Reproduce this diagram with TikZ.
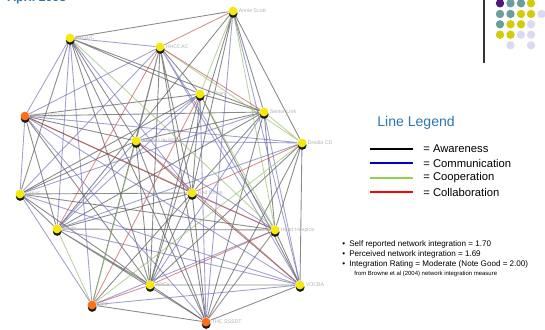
\documentclass[tikz,border=0pt]{standalone}
\usepackage{fontspec}
\setmainfont{Liberation Sans}
\usetikzlibrary{shadows,backgrounds}

\definecolor{headblue}{HTML}{2A78B0}
\definecolor{dotpurple}{HTML}{4B1A7A}
\definecolor{dotteal}{HTML}{6A9E9E}
\definecolor{dotyellow}{HTML}{D4CC0A}
\definecolor{dotlilac}{HTML}{DCDAF0}
\definecolor{legcoop}{HTML}{92D050}
\definecolor{linecom}{HTML}{6E6EB4}

\tikzset{
  org/.style={circle,inner sep=0pt,minimum size=5pt,fill=yellow!95!black,
    drop shadow={shadow xshift=0.1pt,shadow yshift=-1.4pt,fill=black!90,opacity=1},
    label={[lbl]right:#1}},
  orgx/.style={org=#1,fill=orange!75!red!90!white},
  lbl/.style={font=\fontsize{3}{3.5}\selectfont,text=gray!60,inner sep=0.4pt},
  aw/.style={line width=0.5pt,draw=black!65,draw opacity=0.7},
  com/.style={line width=0.5pt,draw=linecom,draw opacity=0.65},
  coop/.style={line width=0.5pt,draw=legcoop!70!gray,draw opacity=0.6},
  coll/.style={line width=0.5pt,draw=red!45!gray,draw opacity=0.6},
  legtxt/.style={anchor=west,font=\fontsize{6.4}{7}\selectfont,inner sep=0pt},
  bultxt/.style={anchor=base west,font=\fontsize{4.6}{5}\selectfont,inner sep=0pt}
}

\begin{document}
\begin{tikzpicture}[x=0.02cm,y=-0.02cm]
\useasboundingbox (0,0) rectangle (545,330);

% header, cut at the top edge
\begin{scope}
\clip (0,0) rectangle (545,330);
\node[anchor=base west,inner sep=0pt,text=headblue,font=\bfseries\fontsize{7}{8}\selectfont] (title) at (7,1.8) {April 2008};
\end{scope}

% corner dots and rule
\draw[line width=0.6pt,black!80] (484,0) -- (484,63);
\fill[dotpurple] (500,3.3) circle (4.2);
\fill[dotteal] (510.5,3.3) circle (4.2);
\fill[dotteal] (521,3.3) circle (4.2);
\fill[dotyellow] (531,3.3) circle (4.2);
\fill[dotteal] (500,14) circle (4.2);
\fill[dotteal] (510.5,14) circle (4.2);
\fill[dotyellow] (521,14) circle (4.2);
\fill[dotyellow] (531,14) circle (4.2);
\fill[dotlilac] (541.5,14) circle (4.2);
\fill[dotteal] (500,24.3) circle (4.2);
\fill[dotyellow] (510.5,24.3) circle (4.2);
\fill[dotyellow] (521,24.3) circle (4.2);
\fill[dotlilac] (531,24.3) circle (4.2);
\fill[dotyellow] (500,34.7) circle (4.2);
\fill[dotyellow] (510.5,34.7) circle (4.2);
\fill[dotlilac] (521,34.7) circle (4.2);
\fill[dotlilac] (531,34.7) circle (4.2);
\fill[dotlilac] (510.5,45.3) circle (4.2);
\fill[dotlilac] (531,45.3) circle (4.2);

% agencies
\node[org=Annie Scott] (scott) at (233,11) {};
\node[org=HHSDC] (hhsdc) at (70,38) {};
\node[org=HHCCAC] (hhccac) at (160,47) {};
\node[org=LL Then] (llthen) at (200,94) {};
\node[org=Senior Link] (slink) at (264,112) {};
\node[org=Dredia CD] (dredia) at (302,143) {};
\node[orgx=HHSCP SGHx] (hhscp) at (25,116) {};
\node[org=Senior Life BS] (slife) at (136,141) {};
\node[org=DHHS] (dhhs) at (20,194) {};
\node[org=Red Cross] (rcross) at (192,193) {};
\node[org=Shelb] (shelb) at (57,229) {};
\node[org=Heart Hospice] (hhosp) at (275,230) {};
\node[org=ARCs] (arc) at (150,285) {};
\node[org=VOCBA] (vocba) at (300,285) {};
\node[orgx=DFF] (dff) at (92,305) {};
\node[orgx=THC SSSDT] (thc) at (206,322) {};

\begin{scope}[on background layer]
% awareness
\draw[aw] (scott) -- (hhsdc) (scott) -- (slink) (scott) -- (dredia) (scott) -- (arc) (scott) -- (shelb) (scott) -- (rcross);
\draw[aw] (hhsdc) -- (slink) (hhsdc) -- (llthen) (hhsdc) -- (slife) (hhsdc) -- (dhhs) (hhsdc) -- (arc) (hhsdc) -- (thc);
\draw[aw] (hhccac) -- (llthen) (hhccac) -- (slife) (hhccac) -- (rcross) (hhccac) -- (arc) (hhccac) -- (dff) (hhccac) -- (thc);
\draw[aw] (llthen) -- (slink) (llthen) -- (hhscp) (llthen) -- (rcross) (llthen) -- (arc) (llthen) -- (vocba) (llthen) -- (dhhs);
\draw[aw] (slink) -- (hhscp) (slink) -- (rcross) (slink) -- (shelb) (slink) -- (hhosp) (slink) -- (thc) (slink) -- (slife);
\draw[aw] (dredia) -- (hhosp) (dredia) -- (vocba) (dredia) -- (arc) (dredia) -- (thc);
\draw[aw] (hhscp) -- (slife) (hhscp) -- (rcross) (hhscp) -- (shelb) (hhscp) -- (arc);
\draw[aw] (slife) -- (dhhs) (slife) -- (rcross) (slife) -- (arc) (slife) -- (thc);
\draw[aw] (dhhs) -- (rcross) (dhhs) -- (shelb) (dhhs) -- (hhosp) (dhhs) -- (arc);
\draw[aw] (rcross) -- (shelb) (rcross) -- (arc) (rcross) -- (vocba) (rcross) -- (thc) (rcross) -- (dff);
\draw[aw] (shelb) -- (hhosp) (shelb) -- (arc) (shelb) -- (thc);
\draw[aw] (hhosp) -- (vocba) (hhosp) -- (thc) (arc) -- (vocba) (arc) -- (thc) (dff) -- (thc) (vocba) -- (thc);
% communication
\draw[com] (hhsdc) -- (hhccac) (hhsdc) -- (shelb) (hhsdc) -- (dff) (hhsdc) -- (rcross) (hhsdc) -- (hhscp);
\draw[com] (hhccac) -- (hhscp) (hhccac) -- (dhhs) (hhccac) -- (hhosp) (hhccac) -- (vocba);
\draw[com] (llthen) -- (slife) (llthen) -- (shelb) (llthen) -- (thc);
\draw[com] (slink) -- (dhhs) (slink) -- (arc) (slink) -- (vocba);
\draw[com] (dredia) -- (slife) (dredia) -- (shelb) (dredia) -- (hhscp);
\draw[com] (hhscp) -- (dhhs) (hhscp) -- (vocba) (hhscp) -- (thc);
\draw[com] (slife) -- (shelb) (slife) -- (hhosp) (dhhs) -- (dff) (dhhs) -- (vocba);
\draw[com] (rcross) -- (hhosp) (shelb) -- (vocba) (hhosp) -- (dff) (vocba) -- (dff) (scott) -- (thc) (scott) -- (vocba);
% cooperation
\draw[coop] (scott) -- (llthen) (scott) -- (hhosp) (hhccac) -- (dredia) (slink) -- (dredia) (dredia) -- (dff);
\draw[coop] (llthen) -- (hhosp) (shelb) -- (dff) (slife) -- (dff) (hhsdc) -- (hhosp);
% collaboration
\draw[coll] (scott) -- (hhccac) (hhccac) -- (slink) (hhosp) -- (arc) (dff) -- (arc) (dredia) -- (rcross);
\draw[coll] (llthen) -- (dff) (hhccac) -- (shelb) (slife) -- (vocba) (hhscp) -- (hhosp);
\end{scope}

% legend
\node[anchor=west,inner sep=0pt,text=headblue,font=\fontsize{8}{9}\selectfont] (legend) at (377,123) {Line Legend};
\draw[line width=1.1pt,black] (370,149) -- (413,149);
\node[legtxt] (lawa) at (423,149) {= Awareness};
\draw[line width=1.1pt,blue!80!black] (370,163) -- (413,163);
\node[legtxt] (lcom) at (423,163) {= Communication};
\draw[line width=1.1pt,legcoop] (370,178) -- (413,178);
\node[legtxt] (lcoop) at (423,178) {= Cooperation};
\draw[line width=1.1pt,red] (370,192) -- (413,192);
\node[legtxt] (lcoll) at (423,192) {= Collaboration};

% integration scores
\node[bultxt] (bul1) at (342,247) {•};
\node[bultxt] (txt1) at (349,247) {Self reported network integration = 1.70};
\node[bultxt] (bul2) at (342,257) {•};
\node[bultxt] (txt2) at (349,257) {Perceived network integration = 1.69};
\node[bultxt] (bul3) at (342,267) {•};
\node[bultxt] (txt3) at (349,267) {Integration Rating = Moderate (Note Good = 2.00)};
\node[anchor=base west,inner sep=0pt,font=\fontsize{3.4}{4}\selectfont] (src) at (354,276) {from Browne et al (2004) network integration measure};
\end{tikzpicture}
\end{document}
